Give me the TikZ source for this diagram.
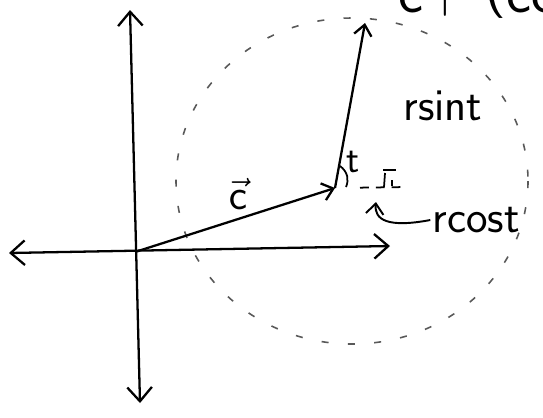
\documentclass[tikz,border=0pt]{standalone}
\usepackage{amsmath}
\usepackage{tikz}
\usetikzlibrary{arrows.meta, calc}

\begin{document}
\begin{tikzpicture}[
  x=0.02cm, y=-0.02cm,
  axis/.style={line width=1.3pt,
               {Straight Barb[length=8pt, width=14pt]}-{Straight Barb[length=8pt, width=14pt]}},
  vec/.style={line width=1.3pt, -{Straight Barb[length=6pt, width=10pt]}},
  orbit/.style={line width=0.9pt, black!65, dash pattern=on 4pt off 11pt},
  hand/.style={font=\fontsize{26}{30}\selectfont\sffamily, inner sep=1pt},
]
  \useasboundingbox (0,0) rectangle (543,417);

  % Axes
  \coordinate (O)  at (135,252);
  \coordinate (xl) at (9,253);
  \coordinate (xr) at (390,246);
  \coordinate (yt) at (130,10);
  \coordinate (yb) at (140,403);
  \draw[axis] (xl) -- (xr);
  \draw[axis] (yt) -- (yb);

  % Circle round the tip of c
  \draw[orbit] (352,181) ellipse [x radius=176, y radius=163];

  % Vectors
  \coordinate (C) at (335,188);
  \coordinate (P) at (365,23);
  \draw[vec] (O) -- (C);
  \draw[vec] (C) -- (P);

  % Angle t and the horizontal leg
  \draw[line width=1pt] (340,166) .. controls (348,172) and (349,180) .. (346,187);
  \coordinate (D) at (407,187);
  \draw[line width=1pt, dash pattern=on 5pt off 4pt, shorten <=0.5cm] (C) -- (D);
  \draw[line width=1pt] (383,170) -- (396,170);
  \draw[line width=1pt] (385,173) -- (384,187);
  \draw[line width=1pt] (392,180) -- (392,186);

  % Labels
  \node[hand] (clabel) at (238,194) {$\vec{\mathsf{c}}$};
  \node[hand, font=\fontsize{22}{26}\selectfont\sffamily] (tlabel) at (353,162) {t};
  \node[hand] (rsin) at (443,106) {rsint};
  \node[hand] (rcos) at (476,220) {rcost};
  \node[hand, font=\fontsize{34}{38}\selectfont\sffamily, anchor=base west]
       (formula) at (396,12) {c+\hspace{0.3em}\raisebox{0.15em}{(}cos t, sin t)};

  % Pointer to the horizontal leg
  \coordinate (foot) at (376,202);
  \draw[vec, line width=1.1pt] (rcos.west) .. controls (388,228) and (374,220) .. (foot);
\end{tikzpicture}
\end{document}
